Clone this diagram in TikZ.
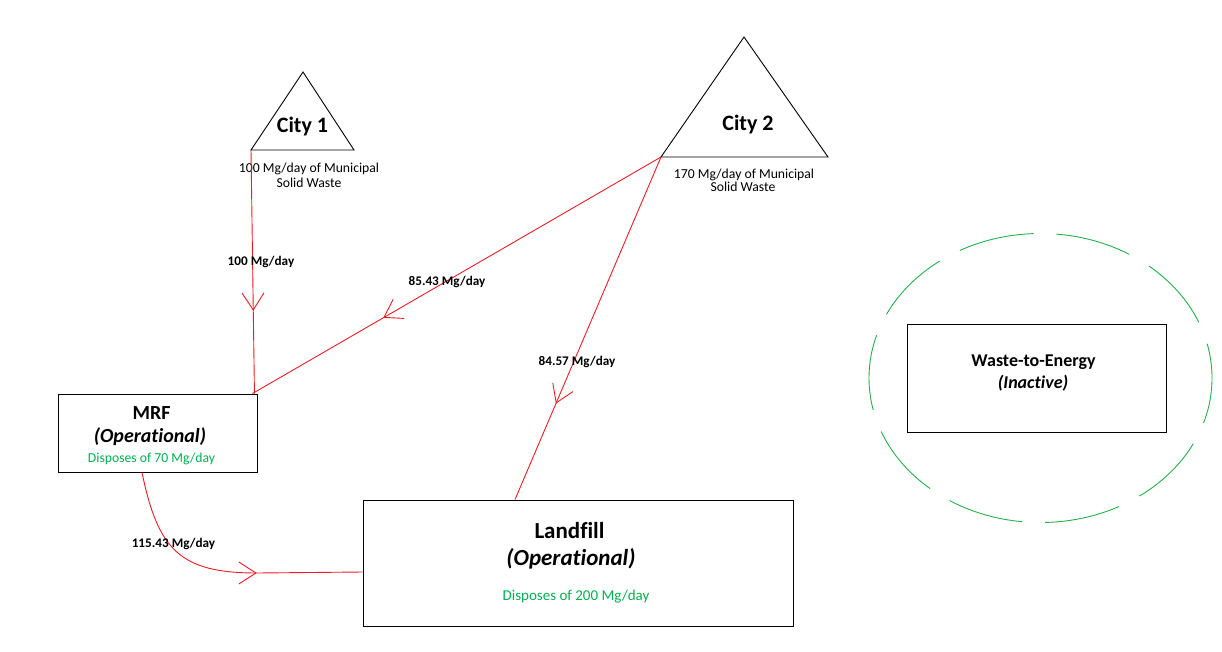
\documentclass[tikz,border=0pt]{standalone}
\usepackage{fontspec}
\setmainfont{Carlito}[Ligatures={NoCommon}]
\usetikzlibrary{positioning,arrows.meta,calc,decorations.markings}
\definecolor{red1}{HTML}{ED1C24}
\definecolor{green1}{HTML}{22B14C}
\definecolor{green2}{HTML}{00B050}

\begin{document}
\begin{tikzpicture}[
    x=1pt, y=-1pt,
    box/.style={draw, line width=0.9pt, inner sep=0pt},
    city/.style={draw, line width=0.9pt, line join=miter},
    flow/.style={color=red1, line width=0.9pt, postaction={decorate},
                 decoration={markings, mark=at position #1 with
                   {\arrow{Straight Barb[length=17pt, width=22pt]}}}},
    cityname/.style={font=\bfseries\fontsize{22}{26}\selectfont, anchor=base},
    note/.style={font=\fontsize{13.7}{16}\selectfont, anchor=base},
    title/.style={font=\bfseries\fontsize{20}{24}\selectfont, anchor=base},
    state/.style={font=\bfseries\itshape\fontsize{20}{24}\selectfont, anchor=base},
    dispose/.style={font=\fontsize{13.7}{16}\selectfont, text=green2, anchor=base},
    amount/.style={font=\bfseries\fontsize{13.2}{15}\selectfont, anchor=base},
]
\useasboundingbox (0,0) rectangle (1222,652);

% Cities
\coordinate (c1sw) at (251,150);
\draw[city] (c1sw) -- (303,72) -- (354,150) -- cycle;
\node[cityname] (city1) at (302.5,133) {City 1};
\node[note] (c1a) at (309,172.7) {100 Mg/day of Municipal};
\node[note] (c1b) at (309,187.7) {Solid Waste};

\coordinate (c2sw) at (661,157);
\draw[city] (c2sw) -- (744,37) -- (828,157) -- cycle;
\node[cityname] (city2) at (748,131) {City 2};
\node[note] (c2a) at (744,178.3) {170 Mg/day of Municipal};
\node[note] (c2b) at (743,191.7) {Solid Waste};

% Facilities
\node[box, minimum width=199pt, minimum height=78pt] (mrf) at (157.5,433) {};
\node[title] (mrfname) at (151.5,419) {MRF};
\node[state] (mrfstate) at (150,442) {(Operational)};
\node[dispose] (mrfcap) at (151.5,462.7) {Disposes of 70 Mg/day};

\node[box, minimum width=430pt, minimum height=126pt] (landfill) at (578,563) {};
\node[title, font=\bfseries\fontsize{23}{27}\selectfont] (lfname) at (569.5,538.3) {Landfill};
\node[state, font=\bfseries\itshape\fontsize{23}{27}\selectfont] (lfstate) at (571,565.7) {(Operational)};
\node[dispose, font=\fontsize{15}{18}\selectfont] (lfcap) at (576,600) {Disposes of 200 Mg/day};

\node[box, minimum width=259pt, minimum height=108pt] (wte) at (1036.5,378) {};
\node[title, font=\bfseries\fontsize{18}{22}\selectfont] (wtename) at (1033.5,366.7) {Waste-to-Energy};
\node[state, font=\bfseries\itshape\fontsize{18}{22}\selectfont] (wtestate) at (1033,388.3) {(Inactive)};
\draw[green1, line width=0.9pt, dash pattern=on 76pt off 23pt, dash phase=30pt]
    (wte.center) ++(4,0) ellipse [x radius=171.5, y radius=144.5];

% Flows
\draw[flow=0.66] (c1sw) -- ($(mrf.north east)+(-3,0)$);
\draw[flow=0.68] (c2sw) -- ($(mrf.north east)+(-5,0)$);
\draw[flow=0.72] (c2sw) -- ($(landfill.north)+(-63,0)$);
\draw[flow=0.62] ($(mrf.south)+(-15.5,0)$) .. controls (158,550) and (180,573)
    .. (257,573) -- ($(landfill.west)+(0,9)$);

% Flow amounts
\node[amount] (q1) at (261,265) {100 Mg/day};
\node[amount] (q2) at (447,285.7) {85.43 Mg/day};
\node[amount] (q3) at (577,365) {84.57 Mg/day};
\node[amount] (q4) at (173.5,547.7) {115.43 Mg/day};
\end{tikzpicture}
\end{document}
